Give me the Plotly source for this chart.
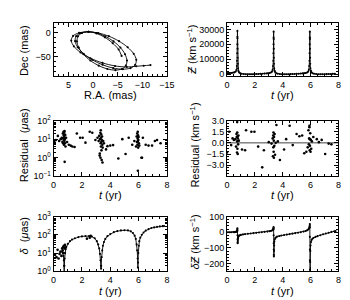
import plotly.graph_objects as go

# ---------------- data ----------------
ra_mas = [-5.8, -5.2, -4.0, -2.4, -0.7,
          0.92, 2.22, 3.04, 3.27, 2.89, 1.94, 0.54, -1.15, -2.91, -4.54, -5.84, -6.66, -6.89, -6.50, -5.56, -4.16, -2.47, -0.71,
          0.92, 2.48, 3.42, 3.64, 3.11, 1.90, 0.14, -1.94, -4.09, -6.06, -7.61, -8.55, -8.78, -8.25, -7.03, -5.28, -3.20, -1.05,
          0.93, 2.84, 4.05, 4.42, 3.89, 2.54, 0.53, -1.91, -4.47, -6.85, -8.76, -10.28, -11.66]
dec_mas = [-48, -35, -22, -10, -2,
           1.34, -1.0, -7.8, -18.3, -31.1, -44.7, -57.5, -67.9, -74.7, -77.1, -74.7, -67.9, -57.5, -44.7, -31.0, -18.3, -7.8, -1.0,
           1.32, -1.0, -7.6, -17.8, -30.3, -43.6, -56.0, -66.2, -72.9, -75.2, -72.9, -66.2, -56.0, -43.6, -30.3, -17.8, -7.6, -1.0,
           1.32, -0.9, -7.1, -16.7, -28.4, -40.9, -52.7, -62.3, -68.5, -70.7, -69.2, -68.0, -66.8]

t_z = [0.00, 0.10, 0.20, 0.30, 0.40, 0.50, 0.55, 0.63, 0.68, 0.71,
       0.725, 0.735, 0.742, 0.747, 0.750, 0.754, 0.759, 0.766, 0.776, 0.79,
       0.82, 0.87, 0.95, 1.05, 1.20, 1.35, 1.50, 1.65, 1.80, 1.95,
       2.10, 2.25, 2.40, 2.55, 2.70, 2.85, 2.95, 3.05, 3.15, 3.23,
       3.28, 3.31, 3.325, 3.335, 3.342, 3.347, 3.350, 3.354, 3.359, 3.366,
       3.376, 3.39, 3.42, 3.47, 3.55, 3.65, 3.80, 3.95, 4.10, 4.25,
       4.40, 4.55, 4.70, 4.85, 5.00, 5.15, 5.30, 5.45, 5.55, 5.65,
       5.75, 5.83, 5.88, 5.91, 5.925, 5.935, 5.942, 5.947, 5.950, 5.954,
       5.959, 5.966, 5.976, 5.99, 6.02, 6.07, 6.15, 6.25, 6.40, 6.55,
       6.70, 6.85, 7.00, 7.15, 7.30, 7.45, 7.60, 7.75]
z_kms = [700, 750, 800, 850, 950, 1100, 1300, 1800, 3000, 5500,
         9000, 14000, 20000, 25000, 29000, 24000, 17000, 11000, 7000, 4000,
         2200, 1200, 600, 300, 100, 0, -50, -50, 0, 50,
         100, 150, 250, 300, 400, 500, 650, 800, 1100, 1700,
         3000, 5500, 9000, 14000, 20000, 24500, 28500, 23500, 17000, 11000,
         7000, 4000, 2200, 1200, 600, 300, 100, 0, -50, -50,
         0, 50, 100, 150, 250, 300, 400, 550, 650, 800,
         1100, 1700, 3000, 5500, 9000, 14000, 20000, 24500, 28500, 23500,
         17000, 11000, 7000, 4000, 2200, 1200, 600, 300, 100, 0,
         -50, -50, 0, 50, 100, 150, 250, 300]

t_res_pos = [0.05, 0.16, 0.30, 0.39, 0.50, 0.58, 0.62, 0.65, 0.67, 0.69,
             0.70, 0.71, 0.72, 0.73, 0.74, 0.75, 0.76, 0.77, 0.78, 0.79,
             0.80, 0.82, 0.84, 0.88, 0.95, 1.07, 1.20, 1.32, 1.48, 1.64,
             1.87, 2.05, 2.25, 2.55, 2.73, 2.95, 3.10, 3.18, 3.22, 3.25,
             3.28, 3.30, 3.32, 3.33, 3.34, 3.35, 3.36, 3.37, 3.38, 3.40,
             3.42, 3.44, 3.46, 3.50, 3.55, 3.26, 3.31, 3.39, 3.45, 3.70,
             3.80, 4.00, 4.20, 4.57, 4.85, 5.08, 5.30, 5.55, 5.70, 5.82,
             5.86, 5.88, 5.90, 5.92, 5.93, 5.94, 5.95, 5.96, 5.97, 5.98,
             6.00, 6.02, 6.05, 5.95, 6.20, 6.24, 6.30, 6.50, 6.70, 6.95,
             7.15, 7.30, 7.55]
res_pos = [7, 9, 15, 8, 10, 12, 7, 20, 6, 11,
           25, 9, 16, 5, 22, 13, 8, 27, 0.6, 10,
           6, 17, 4, 12, 7, 5, 4.5, 4, 3.8, 20,
           12, 12, 6.5, 25, 22, 9, 12, 8, 15, 1.3,
           10, 22, 6, 30, 4, 12, 18, 7, 2.5, 9,
           14, 5, 3.5, 8, 6, 1.7, 1.0, 0.75, 0.55, 2.8,
           4.2, 4.5, 4.8, 0.9, 10, 1.6, 12, 5, 8, 4,
           14, 7, 20, 5, 11, 25, 8, 16, 3.5, 9,
           13, 6, 4.5, 0.2, 1.0, 1.0, 12, 5, 4.5, 4.5,
           8, 9, 6]

t_res_vel = [0.00, 0.16, 0.30, 0.40, 0.50, 0.60, 0.65, 0.68, 0.70, 0.72,
             0.73, 0.74, 0.75, 0.76, 0.77, 0.78, 0.80, 0.82, 0.85, 0.73,
             1.08, 1.30, 1.37, 1.75, 1.97, 2.24, 2.53, 2.65, 3.00, 3.20,
             3.28, 3.30, 3.32, 3.33, 3.34, 3.35, 3.36, 3.37, 3.38, 3.40,
             3.42, 3.45, 3.50, 3.55, 3.80, 3.65, 4.10, 4.25, 4.50, 4.72,
             5.00, 5.20, 5.40, 5.55, 5.70, 5.80, 5.85, 5.88, 5.90, 5.92,
             5.94, 5.95, 5.96, 5.98, 6.00, 6.02, 6.05, 6.10, 6.20, 5.92,
             6.45, 6.60, 6.80, 7.05, 7.30, 7.50]
res_vel = [-1.3, 1.5, -0.3, 0.6, 0.4, 0.5, -0.5, 1.2, 0.8, -1.3,
           0.2, 1.4, -0.8, 0.9, -1.5, 0.6, -0.2, 1.0, 0.3, 2.8,
           -0.9, -1.0, 1.7, 1.5, 1.5, -0.5, -3.3, -1.0, 0.1, -0.1,
           0.6, -1.8, 1.0, -0.6, 1.4, -1.2, 0.3, -2.0, 0.8, -0.4,
           1.2, -1.6, 0.0, 2.4, -2.3, 0.2, -0.9, 0.5, 2.3, -0.3,
           1.2, 0.9, 1.0, -1.4, -1.2, -0.6, 1.7, -0.2, 0.6, 2.1,
           -1.0, 0.5, -0.4, 1.3, -1.2, 0.4, -0.8, 0.2, 0.8, 2.3,
           0.5, 0.1, 0.4, -1.5, -0.1, -0.2]

t_delta = [0.60, 0.65, 0.69, 0.72, 0.74, 0.75, 0.76, 0.78, 0.81, 0.85,
           0.90, 1.00, 1.15, 1.30, 1.50, 1.75, 2.00, 2.25, 2.50, 2.70,
           2.90, 3.05, 3.15, 3.22, 3.27, 3.31, 3.34, 3.35, 3.36, 3.39,
           3.43, 3.48, 3.55, 3.65, 3.80, 4.00, 4.25, 4.50, 4.75, 5.00,
           5.25, 5.45, 5.60, 5.72, 5.80, 5.86, 5.90, 5.93, 5.95, 5.96,
           5.98, 6.01, 6.05, 6.12, 6.22, 6.35, 6.50, 6.70, 6.90, 7.10,
           7.30, 7.50, 7.70, 7.80]
delta = [12, 10, 7, 4, 2, 0.5, 2, 5, 10, 16,
         22, 32, 45, 55, 65, 75, 82, 86, 86, 80,
         65, 45, 30, 18, 9, 4, 2, 1.4, 2, 6,
         14, 25, 40, 60, 85, 110, 140, 160, 175, 180,
         175, 155, 125, 90, 60, 30, 14, 5, 1.6, 3,
         10, 25, 45, 70, 100, 135, 170, 205, 235, 255,
         275, 290, 300, 305]
t_dscat = [0.10, 0.20, 0.28, 0.35, 0.42, 0.48, 0.55, 0.60, 0.64, 0.68, 0.71, 0.73, 0.77, 0.80, 0.84, 2.35, 2.55, 2.62]
dscat = [8, 6, 15, 5, 9, 12, 7, 18, 14, 22, 10, 25, 18, 28, 20, 62, 70, 88]

t_dz = [0.00, 0.15, 0.30, 0.45, 0.55, 0.62, 0.67, 0.70, 0.72, 0.735,
        0.745, 0.750, 0.752, 0.755, 0.758, 0.762, 0.768, 0.775, 0.785, 0.80,
        0.83, 0.87, 0.93, 1.00, 1.15, 1.30, 1.50, 1.70, 1.90, 2.10,
        2.30, 2.50, 2.70, 2.90, 3.05, 3.15, 3.23, 3.28, 3.31, 3.33,
        3.342, 3.348, 3.350, 3.352, 3.355, 3.358, 3.362, 3.368, 3.375, 3.385,
        3.40, 3.43, 3.47, 3.53, 3.60, 3.75, 3.90, 4.10, 4.30, 4.50,
        4.70, 4.90, 5.10, 5.30, 5.50, 5.65, 5.75, 5.83, 5.88, 5.91,
        5.93, 5.942, 5.948, 5.950, 5.952, 5.955, 5.958, 5.962, 5.968, 5.975,
        5.985, 6.00, 6.03, 6.07, 6.13, 6.20, 6.35, 6.50, 6.70, 6.90,
        7.10, 7.30, 7.50, 7.70, 7.80]
dz = [0, 0, 0, 1, 1, 2, 3, 5, 8, 13,
      20, 25, 10, -20, -45, -65, -70, -55, -42, -33,
      -26, -22, -19, -17, -14, -12, -10, -8, -6, -4,
      -2, 0, 2, 4, 6, 8, 11, 14, 18, 23,
      28, 33, 20, -20, -70, -110, -145, -155, -120, -85,
      -60, -45, -37, -32, -28, -24, -21, -18, -15, -12,
      -9, -6, -3, 0, 4, 8, 12, 17, 22, 28,
      35, 42, 52, 30, -30, -110, -180, -240, -260, -190,
      -120, -85, -62, -50, -42, -37, -30, -25, -19, -13,
      -8, -3, 2, 6, 8]

# ---------------- style ----------------
W, H = 350, 300
FONT = "Liberation Sans, Arial, sans-serif"
TICKF = dict(family=FONT, size=9, color="black")
TITLEF = dict(family=FONT, size=11, color="black")

def dom_x(a, b):
    return [a / W, b / W]

def dom_y(top, bot):
    return [1 - bot / H, 1 - top / H]

LX = dom_x(44, 161)
RX = dom_x(223, 338)
R1 = dom_y(8, 64)
R2 = dom_y(110, 168)
R3 = dom_y(210, 267)

def ax(domain, anchor, **kw):
    d = dict(domain=domain, anchor=anchor, showline=True, linecolor="black", linewidth=1,
             mirror="allticks", ticks="inside", ticklen=4, tickwidth=1, tickcolor="black",
             showgrid=False, zeroline=False, tickfont=TICKF,
             minor=dict(ticks="inside", ticklen=2, tickwidth=1, tickcolor="black", showgrid=False))
    minor = kw.pop("minor", None)
    if minor:
        d["minor"].update(minor)
    d.update(kw)
    return d

def logminor(lo, hi):
    vals = []
    for e in range(lo, hi):
        for m in range(2, 10):
            vals.append(m * 10 ** e)
    return vals

line_k = dict(color="black", width=0.9)
mk = dict(color="black", size=2.6)
mk_line = dict(color="black", size=2.1)

fig = go.Figure()
fig.add_trace(go.Scatter(x=ra_mas, y=dec_mas, mode="lines+markers",
                         line=dict(color="black", width=0.9, shape="spline", smoothing=0.9),
                         marker=mk_line, xaxis="x", yaxis="y"))
fig.add_trace(go.Scatter(x=t_z, y=z_kms, mode="lines+markers", line=line_k, marker=mk_line,
                         xaxis="x2", yaxis="y2"))
fig.add_trace(go.Scatter(x=t_res_pos, y=res_pos, mode="markers", marker=mk, xaxis="x3", yaxis="y3"))
fig.add_trace(go.Scatter(x=[0, 8], y=[0, 0], mode="lines", line=dict(color="#444", width=1), xaxis="x4", yaxis="y4"))
fig.add_trace(go.Scatter(x=t_res_vel, y=res_vel, mode="markers", marker=mk, xaxis="x4", yaxis="y4"))
fig.add_trace(go.Scatter(x=t_delta, y=delta, mode="lines+markers", line=line_k, marker=mk_line,
                         xaxis="x5", yaxis="y5"))
fig.add_trace(go.Scatter(x=t_dscat, y=dscat, mode="markers", marker=mk, xaxis="x5", yaxis="y5"))
fig.add_trace(go.Scatter(x=t_dz, y=dz, mode="lines+markers", line=line_k, marker=mk_line,
                         xaxis="x6", yaxis="y6"))

tx = dict(range=[0, 8], tickvals=[0, 2, 4, 6, 8], minor=dict(dtick=0.5))

fig.update_layout(
    width=W, height=H, margin=dict(l=0, r=0, t=0, b=0),
    paper_bgcolor="white", plot_bgcolor="white", showlegend=False,
    xaxis=ax(LX, "y", range=[8, -15], tickvals=[5, 0, -5, -10, -15], minor=dict(dtick=1)),
    yaxis=ax(R1, "x", range=[-90, 20], tickvals=[0, -50], minor=dict(dtick=10)),
    xaxis2=ax(RX, "y2", **dict(tx)),
    yaxis2=ax(R1, "x2", range=[-1500, 34500], tickvals=[0, 10000, 20000, 30000], tickformat="d",
              minor=dict(dtick=2000)),
    xaxis3=ax(LX, "y3", **dict(tx)),
    yaxis3=ax(R2, "x3", type="log", range=[-1, 2], tickvals=[0.1, 1, 10, 100],
              ticktext=["10<sup>−1</sup>", "10<sup>0</sup>", "10<sup>1</sup>", "10<sup>2</sup>"],
              minor=dict(tickvals=logminor(-1, 2))),
    xaxis4=ax(RX, "y4", **dict(tx)),
    yaxis4=ax(R2, "x4", range=[-4.5, 3.0], tickvals=[-3.0, -1.5, 0.0, 1.5, 3.0], tickformat=".1f",
              minor=dict(dtick=0.375, tick0=0)),
    xaxis5=ax(LX, "y5", **dict(tx)),
    yaxis5=ax(R3, "x5", type="log", range=[0, 3], tickvals=[1, 10, 100, 1000],
              ticktext=["10<sup>0</sup>", "10<sup>1</sup>", "10<sup>2</sup>", "10<sup>3</sup>"],
              minor=dict(tickvals=logminor(0, 3))),
    xaxis6=ax(RX, "y6", **dict(tx)),
    yaxis6=ax(R3, "x6", range=[-250, 100], tickvals=[-200, -100, 0, 100], minor=dict(dtick=20)),
)

def title(text, x, y, rot=0):
    fig.add_annotation(text=text, x=x / W, y=1 - y / H, xref="paper", yref="paper",
                       showarrow=False, textangle=rot, font=TITLEF, xanchor="center", yanchor="middle")

tyr = "<i>t</i> (yr)"
title("Dec (mas)", 13, 37, -90)
title("R.A. (mas)", 102.5, 83)
title("<i>Ƶ</i> (km s<sup>−1</sup>)", 186, 36, -90)
title(tyr, 280.5, 83)
title("Residual&nbsp; (<i>μ</i>as)", 13, 136, -90)
title(tyr, 102.5, 187)
title("Residual (km s<sup>−1</sup>)", 189, 136, -90)
title(tyr, 280.5, 187)
title("<i>δ</i>&nbsp; (<i>μ</i>as)", 13, 230, -90)
title(tyr, 102.5, 287)
title("<i>δƵ</i> (km s<sup>−1</sup>)", 189, 237, -90)
title(tyr, 280.5, 287)

fig.write_html("out.html")
